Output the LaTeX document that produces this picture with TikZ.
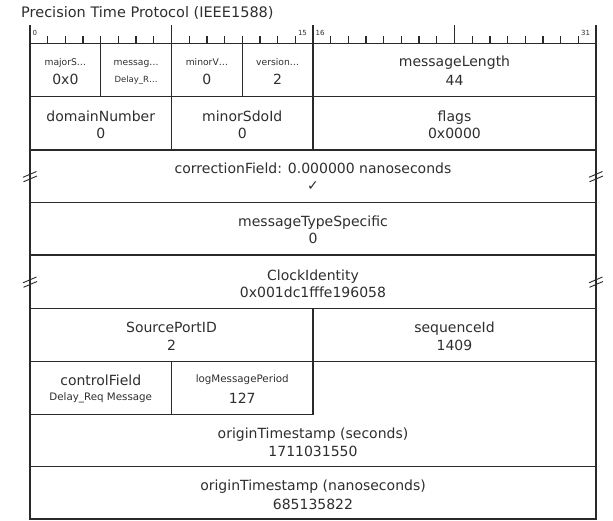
\documentclass[tikz,border=0pt]{standalone}
\usepackage{fontspec}
\setmainfont{DejaVu Sans}
\definecolor{ln}{HTML}{2A2A2A}
\definecolor{txt}{HTML}{2E2E2E}
\tikzset{
  ttl/.style={font=\fontsize{14.5}{17}\selectfont, text=txt, inner sep=0pt, anchor=base west},
  nm/.style={font=\fontsize{14}{17}\selectfont, text=txt, inner sep=0pt, anchor=base},
  sm/.style={font=\fontsize{9.2}{11}\selectfont, text=txt, inner sep=0pt, anchor=base},
  xs/.style={font=\fontsize{8.5}{10}\selectfont, text=txt, inner sep=0pt, anchor=base},
  md/.style={font=\fontsize{10.3}{12}\selectfont, text=txt, inner sep=0pt, anchor=base},
  rl/.style={font=\fontsize{7}{8}\selectfont, text=txt, inner sep=0pt, anchor=base west},
  gridline/.style={draw=ln, line width=1.1pt},
  tickline/.style={draw=ln, line width=1.3pt},
  brk/.style={draw=ln, line width=0.9pt}
}
\begin{document}
\begin{tikzpicture}[x=1pt,y=-1pt]
\useasboundingbox (0,0) rectangle (613,521);
% title
\node[ttl] (title) at (21,17.7) {Precision Time Protocol (IEEE1588)};
% outer border
\draw[gridline] (30,25) -- (30,519) -- (596,519) -- (596,25);
% horizontal lines
\draw[gridline] (30,43.5) -- (596,43.5);
\draw[gridline] (30,96.7) -- (596,96.7);
\draw[gridline] (30,150) -- (596,150);
\draw[gridline] (30,202.3) -- (596,202.3);
\draw[gridline] (30,255) -- (596,255);
\draw[gridline] (30,308.3) -- (596,308.3);
\draw[gridline] (30,361.7) -- (596,361.7);
\draw[gridline] (30,414.3) -- (313,414.3) -- (313,361.7);
\draw[gridline] (30,466.7) -- (596,466.7);
% ruler: small ticks
\foreach \i in {1,...,31}{
  \coordinate (tk\i) at ({30+\i*17.6875},43.5);
  \draw[tickline] (tk\i) -- ++(0,-7);
}
% ruler: tall ticks
\draw[tickline] (tk8) -- ++(0,-18.5) (tk16) -- ++(0,-18.5) (tk24) -- ++(0,-18.5);
\node[rl] (r0) at (32.5,35.2) {0};
\node[rl] (r15) at (297.8,35.2) {15};
\node[rl] (r16) at (315.5,35.2) {16};
\node[rl] (r31) at (580.9,35.2) {31};
% vertical lines
\draw[gridline] (100.75,43) -- (100.75,96.7);
\draw[gridline] (171.5,43) -- (171.5,150);
\draw[gridline] (242.25,43) -- (242.25,96.7);
\draw[gridline] (313,43) -- (313,150);
\draw[gridline] (313,308.3) -- (313,361.7);
\draw[gridline] (171.5,361.7) -- (171.5,414.3);
% break marks
\foreach \bx/\by in {30/176.5, 596/176.5, 30/282, 596/282}{
  \draw[brk] (\bx-7,\by+0.8) -- (\bx+6.5,\by-5);
  \draw[brk] (\bx-6.5,\by+5.3) -- (\bx+7,\by-0.5);
}
% row 1
\node[sm] (majn) at (65.375,65.5) {majorS…};
\node[nm] (majv) at (65.375,85) {0x0};
\node[sm] (msgn) at (136.125,65.5) {messag…};
\node[xs] (msgv) at (136.125,82.7) {Delay\_R…};
\node[sm] (minn) at (206.875,65.5) {minorV…};
\node[nm] (minv) at (206.875,85) {0};
\node[sm] (vern) at (277.625,65.5) {version…};
\node[nm] (verv) at (277.625,85) {2};
\node[nm] (lenn) at (454.5,66.7) {messageLength};
\node[nm] (lenv) at (454.5,85.7) {44};
% row 2
\node[nm] (domn) at (100.75,121.2) {domainNumber};
\node[nm] (domv) at (100.75,138.5) {0};
\node[nm] (sdon) at (242.25,121.2) {minorSdoId};
\node[nm] (sdov) at (242.25,138.5) {0};
\node[nm] (flgn) at (454.5,121.2) {flags};
\node[nm] (flgv) at (454.5,138.5) {0x0000};
% row 3
\node[nm] (corn) at (313,174) {correctionField: 0.000000 nanoseconds};
\node[nm] (corv) at (313,190.5) {✓};
% row 4
\node[nm] (mtsn) at (313,226.7) {messageTypeSpecific};
\node[nm] (mtsv) at (313,243.5) {0};
% row 5
\node[nm] (clkn) at (313,280) {ClockIdentity};
\node[nm] (clkv) at (313,297.3) {0x001dc1fffe196058};
% row 6
\node[nm] (spin) at (171.5,332.7) {SourcePortID};
\node[nm] (spiv) at (171.5,350) {2};
\node[nm] (seqn) at (454.5,332.7) {sequenceId};
\node[nm] (seqv) at (454.5,350) {1409};
% row 7
\node[nm] (ctln) at (100.75,385.7) {controlField};
\node[md] (ctlv) at (100.75,400.7) {Delay\_Req Message};
\node[md] (lmpn) at (242.25,382.3) {logMessagePeriod};
\node[nm] (lmpv) at (242.25,403.3) {127};
% row 8
\node[nm] (otsn) at (313,438.3) {originTimestamp (seconds)};
\node[nm] (otsv) at (313,456.7) {1711031550};
% row 9
\node[nm] (otnn) at (313,490.7) {originTimestamp (nanoseconds)};
\node[nm] (otnv) at (313,509.3) {685135822};
\end{tikzpicture}
\end{document}
